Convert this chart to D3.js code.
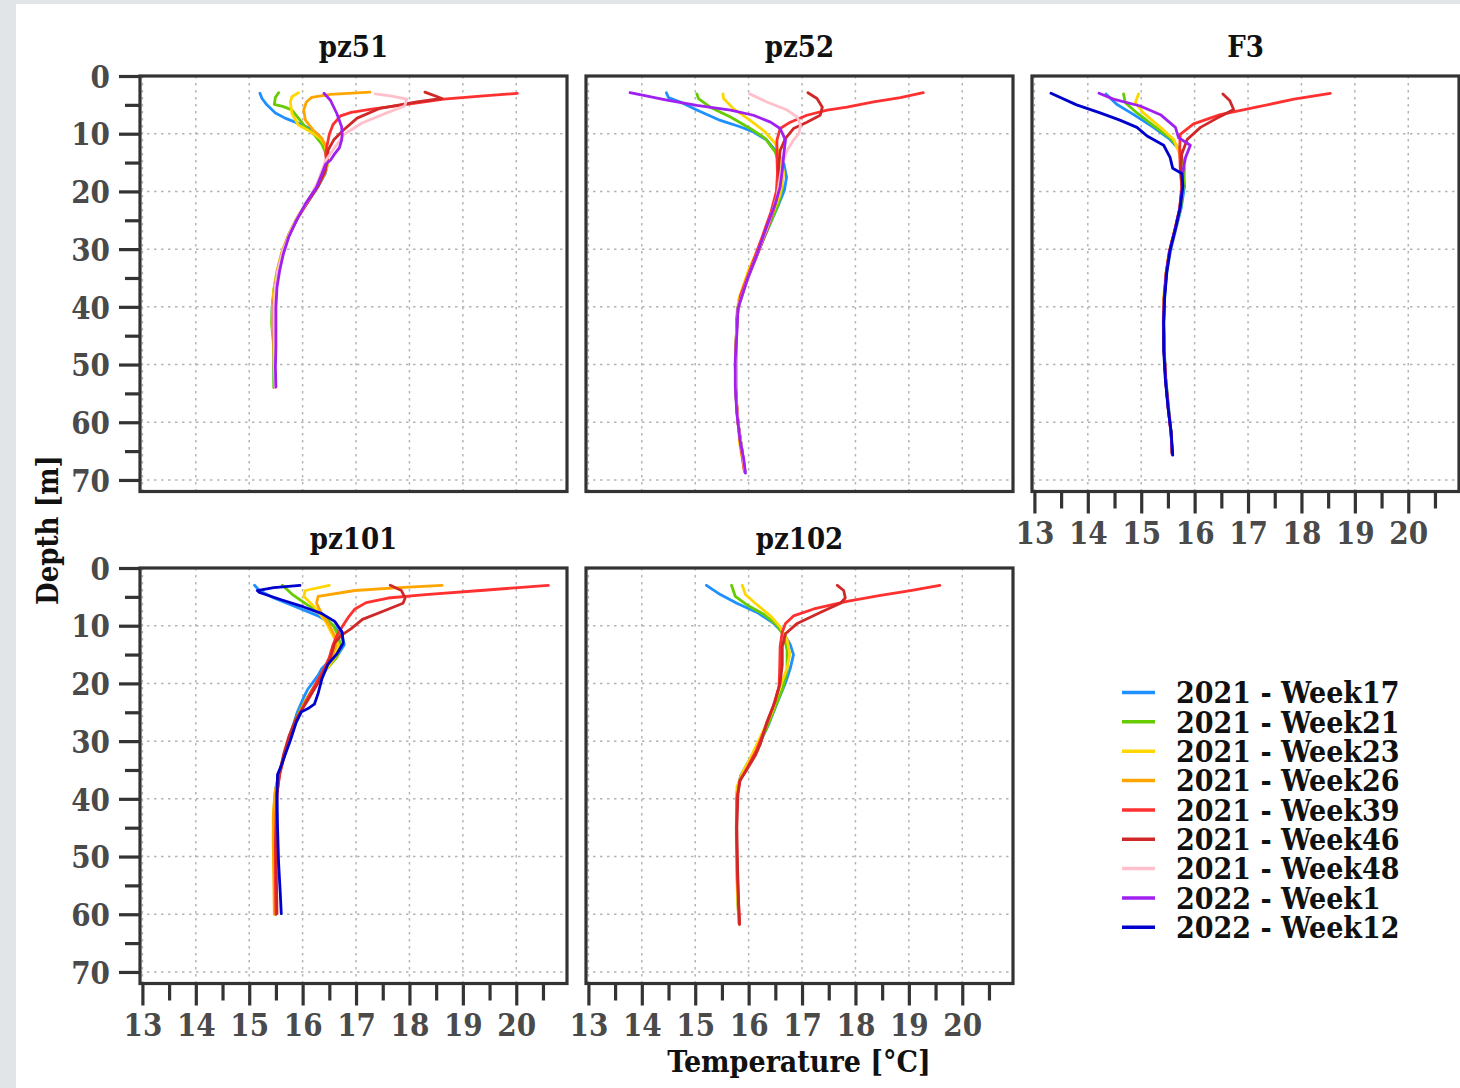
<!DOCTYPE html>
<html>
<head>
<meta charset="utf-8">
<script src="https://cdn.jsdelivr.net/npm/d3@7"></script>
<style>
  html, body { margin: 0; padding: 0; background: #e1e5e8; }
  svg { display: block; }
  .lbl { font-family: 'DejaVu Serif Condensed', 'DejaVu Serif', serif; font-stretch: condensed; font-weight: bold; }
</style>
</head>
<body>
<svg id="chart" width="1460" height="1088"></svg>
<script>
// Series (sampling campaigns) and their colours
const seriesNames = ["2021 - Week17", "2021 - Week21", "2021 - Week23", "2021 - Week26",
                     "2021 - Week39", "2021 - Week46", "2021 - Week48", "2022 - Week1", "2022 - Week12"];
const seriesColors = ["#1e90ff", "#66cc00", "#ffd700", "#ffa500",
                      "#ff3030", "#d02828", "#ffc0cb", "#a020f0", "#0000cd"];

// Axis ticks
const tempTicks = [13, 14, 15, 16, 17, 18, 19, 20];
const tempMinorTicks = [13.5, 14.5, 15.5, 16.5, 17.5, 18.5, 19.5, 20.5];
const depthTicks = [0, 10, 20, 30, 40, 50, 60, 70];
const depthMinorTicks = [5, 15, 25, 35, 45, 55, 65];

// Temperature [°C], depth [m] profiles per station
const pz51 = {
  "2021 - Week17": [[15.20,3.0],[15.24,3.9],[15.33,5.0],[15.49,6.4],[15.67,7.3],[15.92,8.2],[16.14,9.1],[16.30,10.2],[16.40,11.8],[16.45,13.5],[16.47,15.2],[16.42,17.0],[16.30,19.0],[16.12,21.5],[15.92,24.3],[15.75,27.3],[15.62,30.5],[15.53,33.8],[15.47,37.0],[15.43,40.0],[15.43,42.5],[15.46,45.0],[15.47,48.0],[15.46,51.0],[15.47,54.0]],
  "2021 - Week21": [[15.55,2.9],[15.49,3.7],[15.47,4.9],[15.64,5.3],[15.80,5.9],[15.92,7.3],[16.05,8.8],[16.22,10.2],[16.36,11.8],[16.44,13.5],[16.46,15.2],[16.40,17.0],[16.28,19.0],[16.10,21.6],[15.90,24.5],[15.74,27.5],[15.61,30.6],[15.52,33.8],[15.46,37.0],[15.43,40.0],[15.42,43.0],[15.45,46.0],[15.46,49.0],[15.46,52.0],[15.46,54.0]],
  "2021 - Week23": [[15.92,2.9],[15.80,3.6],[15.77,4.5],[15.80,6.5],[15.92,8.5],[16.14,9.6],[16.33,10.8],[16.42,12.0],[16.46,13.8],[16.47,15.3],[16.40,17.2],[16.27,19.2],[16.09,21.8],[15.89,24.7],[15.73,27.7],[15.60,30.8],[15.52,34.0],[15.46,37.2],[15.44,40.2],[15.44,43.0],[15.46,46.0],[15.47,49.5],[15.47,52.0],[15.48,54.0]],
  "2021 - Week26": [[17.26,2.8],[16.52,3.2],[16.17,3.7],[16.07,4.5],[16.02,5.9],[16.05,7.6],[16.20,9.4],[16.36,10.8],[16.45,12.5],[16.47,14.5],[16.42,16.5],[16.30,18.7],[16.12,21.3],[15.92,24.2],[15.75,27.3],[15.62,30.5],[15.53,33.8],[15.47,37.0],[15.44,40.0],[15.43,43.0],[15.46,45.0],[15.47,48.0],[15.47,51.0],[15.48,54.0]],
  "2021 - Week39": [[20.02,3.0],[19.33,3.5],[18.64,4.0],[17.95,4.9],[17.26,5.8],[16.91,6.3],[16.71,6.9],[16.57,8.4],[16.50,10.1],[16.45,12.4],[16.43,13.5],[16.45,15.2],[16.40,17.0],[16.28,19.2],[16.10,21.8],[15.90,24.7],[15.74,27.7],[15.62,30.8],[15.53,34.0],[15.48,37.2],[15.46,40.2],[15.46,43.5],[15.47,47.0],[15.47,50.5],[15.48,54.0]],
  "2021 - Week46": [[18.29,2.8],[18.61,3.9],[18.14,4.5],[17.45,5.6],[17.02,7.3],[16.76,9.4],[16.58,11.1],[16.48,12.8],[16.46,14.5],[16.42,16.5],[16.29,19.0],[16.11,21.6],[15.91,24.5],[15.75,27.5],[15.62,30.7],[15.53,33.9],[15.48,37.1],[15.46,40.1],[15.46,43.5],[15.47,47.0],[15.47,50.5],[15.48,54.0]],
  "2021 - Week48": [[17.36,3.1],[17.67,3.5],[17.95,4.0],[17.91,5.2],[17.60,6.3],[17.12,8.1],[16.78,10.1],[16.60,12.4],[16.43,14.7],[16.36,16.4],[16.28,18.5],[16.11,21.4],[15.91,24.4],[15.75,27.4],[15.62,30.6],[15.53,33.8],[15.48,37.0],[15.46,40.0],[15.46,43.5],[15.47,47.0],[15.47,50.5],[15.48,54.0]],
  "2022 - Week1":  [[16.40,3.0],[16.52,4.2],[16.64,6.5],[16.73,8.8],[16.74,10.1],[16.73,11.1],[16.69,12.4],[16.60,13.5],[16.52,14.6],[16.43,15.3],[16.36,17.0],[16.26,19.3],[16.05,22.2],[15.88,25.1],[15.74,27.9],[15.64,30.8],[15.57,33.7],[15.52,36.6],[15.50,40.0],[15.50,43.5],[15.50,46.9],[15.49,50.4],[15.50,53.9]]
};

const pz52 = {
  "2021 - Week17": [[14.46,2.9],[14.50,3.75],[14.72,4.5],[15.03,5.9],[15.47,7.7],[15.84,8.8],[16.09,9.7],[16.34,11.1],[16.53,13.2],[16.66,15.2],[16.71,17.5],[16.67,19.8],[16.55,22.5],[16.36,26.5],[16.15,31.0],[15.95,35.6],[15.79,40.3],[15.77,45.0],[15.75,50.0],[15.76,55.0],[15.80,60.0],[15.87,64.5],[15.93,68.5]],
  "2021 - Week21": [[15.03,3.1],[15.06,3.9],[15.28,5.4],[15.66,7.1],[16.03,9.1],[16.31,10.8],[16.50,13.2],[16.59,15.8],[16.63,19.2],[16.56,22.1],[16.37,26.3],[16.15,31.0],[15.95,35.6],[15.79,40.3],[15.77,45.0],[15.75,50.0],[15.76,55.0],[15.80,60.0],[15.87,64.5],[15.93,68.5]],
  "2021 - Week23": [[15.52,3.1],[15.53,3.9],[15.72,5.7],[16.03,7.7],[16.31,9.7],[16.50,11.7],[16.59,14.0],[16.66,16.9],[16.59,20.4],[16.47,23.3],[16.22,29.0],[16.00,33.6],[15.81,38.8],[15.77,44.6],[15.76,50.0],[15.77,56.1],[15.83,63.6],[15.92,68.3]],
  "2021 - Week39": [[19.27,2.9],[18.84,3.75],[18.34,4.5],[17.84,5.4],[17.47,5.9],[17.09,6.8],[16.78,8.0],[16.59,9.1],[16.53,11.1],[16.53,14.0],[16.54,16.9],[16.52,20.0],[16.42,23.5],[16.25,28.0],[16.05,33.0],[15.85,38.0],[15.78,42.0],[15.76,48.0],[15.76,54.0],[15.79,59.0],[15.85,64.0],[15.92,68.5]],
  "2021 - Week46": [[17.11,2.9],[17.28,3.9],[17.38,5.4],[17.34,6.8],[17.09,8.0],[16.84,9.1],[16.69,10.8],[16.59,12.9],[16.56,15.8],[16.58,18.6],[16.52,21.5],[16.37,26.0],[16.17,30.8],[15.97,35.4],[15.80,40.2],[15.77,45.0],[15.76,50.0],[15.76,55.0],[15.80,60.0],[15.87,64.5],[15.93,68.5]],
  "2021 - Week48": [[16.02,3.1],[16.34,4.5],[16.72,5.9],[16.91,7.1],[16.97,8.5],[16.94,10.0],[16.84,11.1],[16.72,12.9],[16.63,15.2],[16.59,17.5],[16.53,21.0],[16.36,26.0],[16.16,30.8],[15.97,35.4],[15.80,40.2],[15.77,45.0],[15.76,50.0],[15.76,55.0],[15.80,60.0],[15.87,64.5],[15.93,68.5]],
  "2022 - Week1":  [[13.78,2.9],[14.47,4.2],[15.03,5.1],[15.66,5.9],[16.09,6.8],[16.41,8.0],[16.59,9.1],[16.69,11.1],[16.66,13.4],[16.63,16.3],[16.59,19.2],[16.50,22.1],[16.34,26.1],[16.16,30.8],[15.97,35.4],[15.80,40.3],[15.78,44.6],[15.75,49.2],[15.75,53.8],[15.78,58.5],[15.84,63.1],[15.91,66.5],[15.94,68.8]]
};

const F3 = {
  "2021 - Week17": [[14.34,3.1],[14.54,4.9],[14.86,6.7],[15.23,8.9],[15.54,11.0],[15.73,12.9],[15.79,16.0],[15.81,19.1],[15.75,22.8],[15.65,26.5],[15.55,30.2],[15.48,34.0],[15.44,38.2],[15.42,42.5],[15.43,47.5],[15.46,52.4],[15.51,57.3],[15.56,61.7],[15.58,65.5]],
  "2021 - Week21": [[14.67,3.1],[14.70,4.6],[14.92,6.4],[15.23,8.6],[15.54,10.7],[15.73,12.9],[15.81,16.0],[15.79,19.1],[15.74,22.8],[15.64,26.5],[15.54,30.2],[15.47,34.0],[15.43,38.2],[15.42,42.5],[15.43,47.5],[15.46,52.4],[15.51,57.3],[15.56,61.7],[15.58,65.5]],
  "2021 - Week23": [[14.95,3.1],[14.89,4.6],[15.04,6.4],[15.36,8.9],[15.61,11.0],[15.72,13.5],[15.76,16.6],[15.77,19.5],[15.72,23.0],[15.62,26.8],[15.52,30.5],[15.46,34.2],[15.42,38.5],[15.41,43.0],[15.43,48.0],[15.46,53.0],[15.51,58.0],[15.56,62.0],[15.58,65.5]],
  "2021 - Week39": [[18.54,3.0],[17.86,4.0],[17.11,5.5],[16.48,6.7],[15.98,8.3],[15.73,10.1],[15.72,12.9],[15.73,16.0],[15.76,19.3],[15.72,23.0],[15.63,26.7],[15.53,30.4],[15.47,34.0],[15.43,38.5],[15.42,43.0],[15.43,48.0],[15.46,53.0],[15.51,58.0],[15.56,62.0],[15.58,65.5]],
  "2021 - Week46": [[16.53,3.1],[16.66,4.3],[16.73,5.8],[16.48,7.0],[16.11,8.9],[15.86,11.0],[15.76,13.5],[15.74,16.0],[15.76,19.3],[15.72,23.0],[15.63,26.7],[15.53,30.4],[15.47,34.0],[15.43,38.5],[15.42,43.0],[15.43,48.0],[15.46,53.0],[15.51,58.0],[15.56,62.0],[15.58,65.5]],
  "2022 - Week1":  [[14.21,3.0],[14.48,4.0],[14.98,5.2],[15.36,6.7],[15.64,8.9],[15.70,10.7],[15.92,12.0],[15.83,14.1],[15.78,16.6],[15.77,19.5],[15.72,23.0],[15.63,26.7],[15.53,30.4],[15.47,34.0],[15.43,38.5],[15.42,43.0],[15.43,48.0],[15.46,53.0],[15.51,58.0],[15.56,62.0],[15.58,65.5]],
  "2022 - Week12": [[13.31,3.0],[13.79,5.0],[14.23,6.4],[14.60,7.65],[14.92,8.9],[15.11,10.4],[15.42,12.0],[15.54,14.1],[15.59,16.0],[15.76,16.9],[15.78,19.1],[15.73,22.8],[15.64,26.5],[15.54,30.2],[15.48,33.9],[15.44,38.2],[15.42,42.5],[15.42,47.5],[15.45,52.4],[15.50,57.3],[15.56,61.7],[15.59,65.7]]
};

const pz101 = {
  "2021 - Week17": [[15.10,3.0],[15.19,3.9],[15.46,5.2],[15.88,6.75],[16.29,8.3],[16.57,9.9],[16.74,11.75],[16.78,13.3],[16.67,14.9],[16.43,16.75],[16.36,17.4],[16.29,18.6],[16.09,21.1],[16.02,22.4],[15.90,25.0],[15.78,28.5],[15.67,32.0],[15.58,35.0],[15.50,38.0],[15.47,41.0],[15.47,45.0],[15.48,50.0],[15.49,55.0],[15.50,60.0]],
  "2021 - Week21": [[15.62,3.0],[15.81,4.6],[16.09,6.4],[16.36,8.0],[16.57,9.9],[16.67,11.75],[16.71,13.6],[16.64,15.5],[16.45,17.5],[16.25,20.0],[16.05,23.0],[15.88,26.0],[15.76,29.0],[15.66,32.3],[15.57,35.5],[15.50,38.5],[15.47,42.0],[15.46,47.0],[15.48,53.0],[15.50,60.0]],
  "2021 - Week23": [[16.50,3.0],[16.05,3.9],[16.02,4.9],[16.22,6.75],[16.43,9.25],[16.57,11.75],[16.67,13.3],[16.62,15.3],[16.45,17.5],[16.25,20.2],[16.05,23.2],[15.88,26.2],[15.76,29.2],[15.66,32.4],[15.57,35.5],[15.50,38.5],[15.46,42.0],[15.45,47.0],[15.47,53.0],[15.49,60.0]],
  "2021 - Week26": [[18.61,3.0],[17.81,3.4],[16.98,3.9],[16.29,4.9],[16.26,6.1],[16.36,8.0],[16.50,9.9],[16.60,11.75],[16.62,13.5],[16.55,15.5],[16.40,17.8],[16.22,20.5],[16.03,23.5],[15.87,26.5],[15.75,29.5],[15.65,32.5],[15.56,35.5],[15.48,39.0],[15.45,43.0],[15.45,48.0],[15.46,54.0],[15.47,60.0]],
  "2021 - Week39": [[20.60,3.0],[19.33,3.9],[18.30,4.6],[17.60,5.2],[17.19,6.0],[16.98,7.1],[16.85,8.6],[16.74,10.2],[16.64,11.75],[16.57,13.3],[16.50,15.5],[16.40,17.5],[16.25,20.0],[16.07,23.0],[15.90,26.0],[15.76,29.5],[15.65,32.8],[15.57,35.8],[15.52,39.0],[15.50,43.0],[15.49,48.0],[15.49,54.0],[15.50,60.0]],
  "2021 - Week46": [[17.64,3.0],[17.85,3.9],[17.92,5.2],[17.88,6.1],[17.53,7.4],[17.12,8.9],[16.91,10.5],[16.71,11.75],[16.60,13.0],[16.52,15.5],[16.43,17.4],[16.29,19.9],[16.09,23.0],[15.88,26.1],[15.74,29.25],[15.64,32.4],[15.57,35.5],[15.52,39.25],[15.50,48.0],[15.52,59.9]],
  "2022 - Week12": [[15.95,3.0],[15.46,3.4],[15.15,3.9],[15.19,4.25],[15.60,5.5],[16.02,6.75],[16.36,7.9],[16.60,9.25],[16.74,11.1],[16.76,13.0],[16.64,14.9],[16.47,16.75],[16.36,19.25],[16.29,21.75],[16.22,23.6],[16.12,24.25],[15.98,24.9],[15.88,26.75],[15.77,29.9],[15.67,32.4],[15.60,34.25],[15.53,35.8],[15.52,39.25],[15.53,44.9],[15.55,51.1],[15.58,56.1],[15.60,59.9]]
};

const pz102 = {
  "2021 - Week17": [[15.21,3.0],[15.47,4.6],[15.78,6.1],[16.16,7.7],[16.47,9.6],[16.66,11.4],[16.78,13.3],[16.84,15.0],[16.78,17.4],[16.69,19.9],[16.55,23.0],[16.38,27.0],[16.20,30.5],[16.00,33.5],[15.85,36.0],[15.78,39.0],[15.77,45.0],[15.78,52.0],[15.80,58.0],[15.82,61.5]],
  "2021 - Week21": [[15.68,3.0],[15.75,4.9],[15.97,6.4],[16.28,8.0],[16.53,9.9],[16.66,11.75],[16.72,14.25],[16.72,18.0],[16.63,21.1],[16.50,24.0],[16.35,27.5],[16.18,30.8],[15.99,33.8],[15.85,36.3],[15.78,39.0],[15.77,45.0],[15.78,52.0],[15.80,58.0],[15.82,61.5]],
  "2021 - Week23": [[15.88,3.0],[15.94,4.6],[16.16,6.4],[16.41,8.3],[16.59,10.2],[16.72,12.4],[16.77,14.9],[16.72,17.4],[16.59,20.5],[16.44,24.9],[16.22,29.25],[16.03,33.0],[15.88,35.5],[15.78,38.0],[15.77,41.75],[15.77,48.0],[15.78,54.25],[15.81,60.5],[15.82,61.7]],
  "2021 - Week39": [[19.58,3.0],[19.03,3.9],[18.47,4.75],[17.84,5.8],[17.22,7.1],[16.84,8.3],[16.69,9.6],[16.63,11.1],[16.59,13.6],[16.58,18.0],[16.57,20.5],[16.46,24.0],[16.30,28.0],[16.15,31.5],[15.98,34.5],[15.83,37.0],[15.78,40.0],[15.77,46.0],[15.79,53.0],[15.81,58.0],[15.83,61.7]],
  "2021 - Week46": [[17.66,3.0],[17.78,3.9],[17.81,5.2],[17.72,6.1],[17.34,7.7],[16.91,9.6],[16.69,11.4],[16.63,13.6],[16.63,16.75],[16.59,19.9],[16.50,23.0],[16.34,26.75],[16.22,30.5],[16.13,32.4],[15.97,34.9],[15.84,36.75],[15.80,39.25],[15.78,44.9],[15.79,51.1],[15.81,57.4],[15.83,61.75]]
};

// Panel arrangement: station name, data, grid column and row
const panels = [
  { name: "pz51",  data: pz51,  col: 0, row: 0 },
  { name: "pz52",  data: pz52,  col: 1, row: 0 },
  { name: "F3",    data: F3,    col: 2, row: 0 },
  { name: "pz101", data: pz101, col: 0, row: 1 },
  { name: "pz102", data: pz102, col: 1, row: 1 }
];

const W = 1460, H = 1088;
const colX = [140, 586, 1032], rowY = [76, 568];
const pw = 427, ph = 415.5;

const svg = d3.select("#chart");
svg.append("rect").attr("x", 16).attr("y", 4).attr("width", W - 16).attr("height", H - 4).attr("fill", "#ffffff");

const x = d3.scaleLinear().domain([12.955, 20.95]).range([0, pw]);
const y = d3.scaleLinear().domain([0, 72]).range([0, ph]);
const color = d3.scaleOrdinal().domain(seriesNames).range(seriesColors);
const line = d3.line().x(d => x(d[0])).y(d => y(d[1]));

const FONT = "'DejaVu Serif Condensed', 'DejaVu Serif', serif";

panels.forEach(p => {
  const g = svg.append("g").attr("transform", `translate(${colX[p.col]},${rowY[p.row]})`);

  // dotted grid
  g.append("g").selectAll("line").data(tempTicks).join("line")
    .attr("x1", d => x(d)).attr("x2", d => x(d)).attr("y1", 0).attr("y2", ph)
    .attr("stroke", "#b4b4b4").attr("stroke-width", 1.5).attr("stroke-dasharray", "2.5,4.5");
  g.append("g").selectAll("line").data(depthTicks).join("line")
    .attr("x1", 0).attr("x2", pw).attr("y1", d => y(d)).attr("y2", d => y(d))
    .attr("stroke", "#b4b4b4").attr("stroke-width", 1.5).attr("stroke-dasharray", "2.5,4.5");

  // profiles, in legend order
  seriesNames.forEach(s => {
    if (!p.data[s]) return;
    g.append("path").datum(p.data[s])
      .attr("d", line).attr("fill", "none")
      .attr("stroke", color(s)).attr("stroke-width", 2.8)
      .attr("stroke-linejoin", "round").attr("stroke-linecap", "round");
  });

  // frame
  g.append("rect").attr("x", 0).attr("y", 0).attr("width", pw).attr("height", ph)
    .attr("fill", "none").attr("stroke", "#333333").attr("stroke-width", 3.2);

  // station title
  g.append("text").attr("class", "lbl").attr("x", pw / 2).attr("y", -19)
    .attr("text-anchor", "middle").attr("fill", "#111").attr("font-size", 29)
    .text(p.name);

  // depth axis on the left column
  if (p.col === 0) {
    const ay = g.append("g").call(d3.axisLeft(y).tickValues(depthTicks).tickSize(21).tickPadding(9));
    const ayMinor = g.append("g").call(d3.axisLeft(y).tickValues(depthMinorTicks).tickSize(15).tickFormat(""));
    [ay, ayMinor].forEach(a => {
      a.select(".domain").remove();
      a.selectAll(".tick line").attr("stroke", "#333333").attr("stroke-width", 3.2);
    });
    ay.selectAll(".tick text").attr("fill", "#4a4a4a").attr("font-size", 31)
      .attr("font-family", FONT).attr("font-weight", "bold").style("font-stretch", "condensed")
      .attr("dy", "0.36em");
  }

  // temperature axis below the lowest panel of each column
  if (p.row === 1 || p.col === 2) {
    const ax = g.append("g").attr("transform", `translate(0,${ph})`)
      .call(d3.axisBottom(x).tickValues(tempTicks).tickSize(22));
    const axMinor = g.append("g").attr("transform", `translate(0,${ph})`)
      .call(d3.axisBottom(x).tickValues(tempMinorTicks).tickSize(17).tickFormat(""));
    [ax, axMinor].forEach(a => {
      a.select(".domain").remove();
      a.selectAll(".tick line").attr("stroke", "#333333").attr("stroke-width", 3.2);
    });
    ax.selectAll(".tick text").attr("fill", "#4a4a4a").attr("font-size", 31)
      .attr("font-family", FONT).attr("font-weight", "bold").style("font-stretch", "condensed")
      .attr("y", 52).attr("dy", 0);
  }
});

// axis titles
svg.append("text").attr("class", "lbl").attr("transform", "translate(58,530) rotate(-90)")
  .attr("text-anchor", "middle").attr("fill", "#111").attr("font-size", 29).text("Depth [m]");
svg.append("text").attr("class", "lbl").attr("x", 799).attr("y", 1072)
  .attr("text-anchor", "middle").attr("fill", "#111").attr("font-size", 30).text("Temperature [°C]");

// legend
const legend = svg.append("g").attr("transform", "translate(1122,692.5)");
seriesNames.forEach((s, i) => {
  const row = legend.append("g").attr("transform", `translate(0,${i * 29.35})`);
  row.append("line").attr("x1", 0).attr("x2", 33).attr("y1", 0).attr("y2", 0)
    .attr("stroke", color(s)).attr("stroke-width", 3.5);
  row.append("text").attr("class", "lbl").attr("x", 54).attr("y", 0).attr("dy", "0.36em")
    .attr("fill", "#111").attr("font-size", 30).text(s);
});
</script>
</body>
</html>
